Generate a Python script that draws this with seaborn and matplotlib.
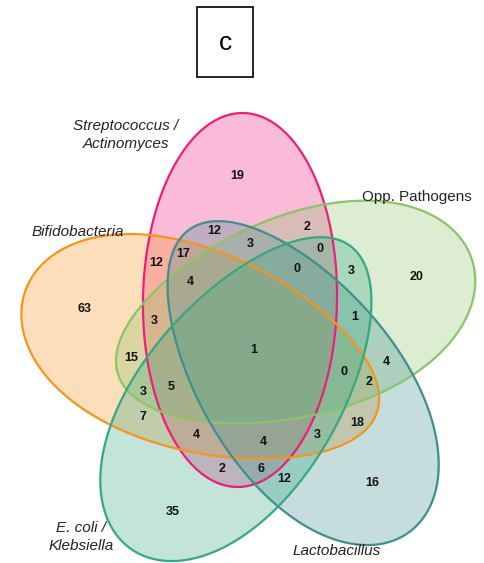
import matplotlib
matplotlib.use("Agg")
import matplotlib.pyplot as plt
from matplotlib.patches import Polygon, Rectangle
import numpy as np
import seaborn as sns

sns.set_style("white")
plt.rcParams['font.family'] = ['Liberation Sans', 'DejaVu Sans']

# ---- data ----
set_names = ["Streptococcus /\nActinomyces", "Bifidobacteria", "Opp. Pathogens",
             "Lactobacillus", "E. coli /\nKlebsiella"]
set_colors = ["#EC1E7C", "#F7941E", "#8DC46A", "#3F8F8F", "#35A883"]
region_counts = [19, 12, 3, 2, 0, 0, 3, 20, 12, 17, 4, 63, 3, 1, 15, 1, 4, 0, 2,
                 3, 5, 7, 18, 4, 4, 3, 2, 6, 12, 16, 35]

# ---- layout (pixel coordinates) ----
W, H = 484, 563
shape_centers = [(240, 300), (201, 352), (295, 317), (299, 381), (240, 397)]
shape_axes = [(187, 97), (186, 100), (186, 100), (187, 98), (187, 98)]
outward_angles = [89, 161, 18, -54, 234]   # direction of the blunt outer end
egg = [0.0, 0.13, 0.12, 0.11, 0.11]
count_pos = [(237, 176), (214, 231), (250, 244), (307, 227), (320, 249), (297, 269),
             (351, 271), (417, 277), (156, 263), (183, 254), (190, 282), (84, 309),
             (154, 321), (355, 317), (131, 358), (254, 350), (386, 362), (344, 372),
             (369, 382), (143, 392), (171, 387), (143, 417), (357, 423), (196, 435),
             (263, 442), (317, 435), (222, 469), (261, 469), (284, 479), (372, 483),
             (173, 512)]
name_pos = [(126, 135), (78, 232), (417, 197), (337, 551), (81, 537)]
name_italic = [True, True, False, True, True]


def egg_outline(center, axes, ang_deg, k, n=400):
    a, b = axes
    t = np.linspace(0, 2 * np.pi, n)
    u = a * np.cos(t)
    v = b * np.sin(t) * (1 + k * np.cos(t))
    th = np.deg2rad(ang_deg)
    dx = u * np.cos(th) - v * np.sin(th)
    dy = u * np.sin(th) + v * np.cos(th)
    return np.column_stack([center[0] + dx, center[1] - dy])


fig = plt.figure(figsize=(W / 100, H / 100), dpi=100)
ax = fig.add_axes([0, 0, 1, 1])
ax.set_xlim(0, W)
ax.set_ylim(H, 0)
ax.axis("off")

palette = sns.color_palette(set_colors)
outlines = [egg_outline(c, s, g, k) for c, s, g, k in
            zip(shape_centers, shape_axes, outward_angles, egg)]
for pts, col in zip(outlines, palette):
    ax.add_patch(Polygon(pts, closed=True, facecolor=col, alpha=0.3,
                         edgecolor="none"))
for pts, col in zip(outlines, palette):
    ax.add_patch(Polygon(pts, closed=True, facecolor="none", edgecolor=col,
                         linewidth=1.6))

for (x, y), n in zip(count_pos, region_counts):
    ax.text(x, y, str(n), ha="center", va="center", fontsize=9,
            fontweight="bold", color="#111111")

for (x, y), name, it in zip(name_pos, set_names, name_italic):
    ax.text(x, y, name, ha="center", va="center", fontsize=11,
            style="italic" if it else "normal", color="#222222", linespacing=1.45)

ax.add_patch(Rectangle((197, 7), 56, 70, facecolor="white", edgecolor="black",
                       linewidth=1.2))
ax.text(225, 43, "c", ha="center", va="center", fontsize=19, color="black")

fig.savefig("out.png", dpi=100)
